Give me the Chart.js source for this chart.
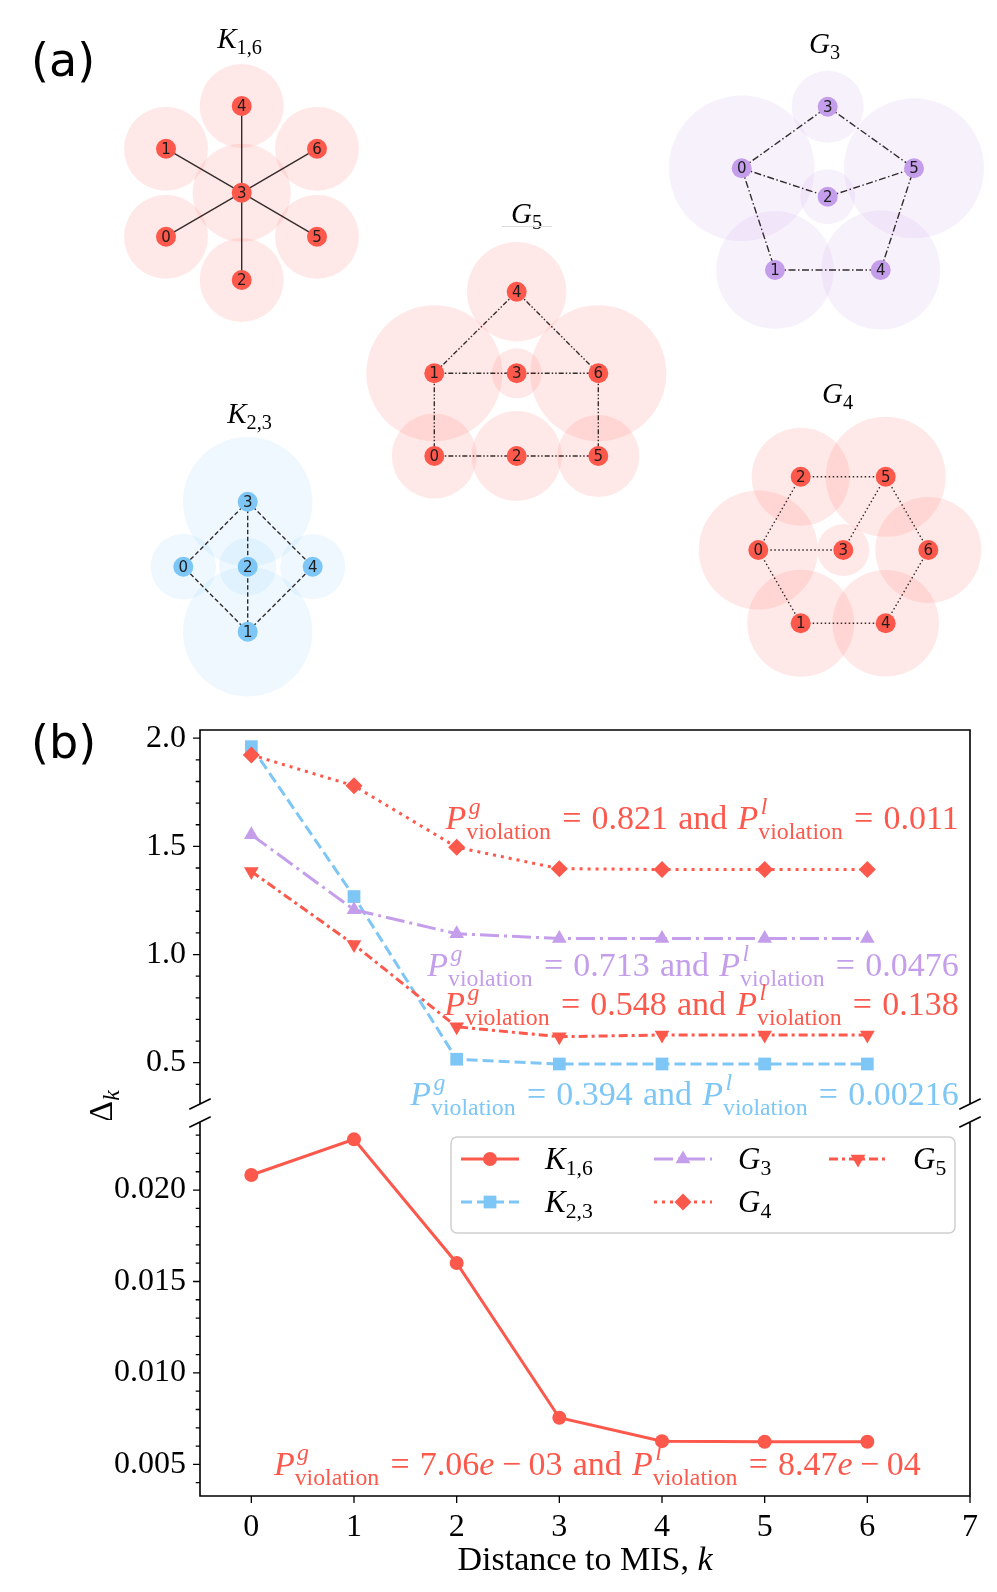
<!DOCTYPE html>
<html>
<head>
<meta charset="utf-8">
<script src="https://cdn.jsdelivr.net/npm/chart.js@4.4.1/dist/chart.umd.min.js"></script>
<style>
  html, body { margin: 0; padding: 0; background: #fff; }
  #page { position: relative; width: 997px; height: 1592px; overflow: hidden; }
  canvas { position: absolute; left: 0; }
</style>
</head>
<body>
<div id="page">
  <canvas id="graphs" width="997" height="700" style="top:0px"></canvas>
  <canvas id="upper" width="997" height="420" style="top:700px"></canvas>
  <canvas id="lower" width="997" height="482" style="top:1110px"></canvas>
</div>
<script>
// ---------- (b) data: Delta_k against distance to MIS ----------
const distK = [0, 1, 2, 3, 4, 5, 6];
const deltaK16 = [0.02082, 0.02277, 0.01601, 0.00755, 0.00627, 0.00624, 0.00624];
const deltaK23 = [1.961, 1.268, 0.516, 0.494, 0.494, 0.494, 0.494];
const deltaG3  = [1.554, 1.207, 1.096, 1.074, 1.074, 1.074, 1.074];
const deltaG4  = [1.923, 1.780, 1.496, 1.397, 1.393, 1.393, 1.393];
const deltaG5  = [1.384, 1.046, 0.666, 0.620, 0.628, 0.628, 0.628];
const seriesValues = [deltaK16, deltaK23, deltaG3, deltaG4, deltaG5];
const seriesLetters = ['K', 'K', 'G', 'G', 'G'];
const seriesSubs = ['1,6', '2,3', '3', '4', '5'];
const pGlobal = ['7.06e-03', '0.394', '0.713', '0.821', '0.548'];
const pLocal  = ['8.47e-04', '0.00216', '0.0476', '0.011', '0.138'];
const xTickValues = [0, 1, 2, 3, 4, 5, 6, 7];
const upperTickValues = [0.5, 1.0, 1.5, 2.0];
const lowerTickValues = [0.005, 0.010, 0.015, 0.020];

// ---------- (a) data: graph layouts (units of the drawing, y up) ----------
const k16Nodes = [[-0.757, -0.44], [-0.757, 0.44], [0, -0.873], [0, 0], [0, 0.867], [0.753, -0.44], [0.753, 0.44]];
const k16Edges = [[3, 0], [3, 1], [3, 2], [3, 4], [3, 5], [3, 6]];
const k16Halo  = [0.42, 0.42, 0.42, 0.49, 0.42, 0.42, 0.42];

const g3Nodes = [[-0.86, 0.284], [-0.527, -0.733], [0, 0], [0, 0.90], [0.53, -0.733], [0.863, 0.284]];
const g3Edges = [[0, 3], [3, 5], [0, 2], [2, 5], [0, 1], [1, 4], [4, 5]];
const g3Halo  = [0.728, 0.587, 0.275, 0.36, 0.595, 0.70];

const g5Nodes = [[-0.824, -0.827], [-0.824, 0], [0, -0.827], [0, 0], [0, 0.816], [0.816, -0.827], [0.816, 0]];
const g5Edges = [[4, 1], [4, 6], [1, 3], [3, 6], [1, 0], [6, 5], [0, 2], [2, 5]];
const g5Halo  = [0.425, 0.68, 0.45, 0.25, 0.497, 0.41, 0.68];

const k23Nodes = [[-0.644, 0], [0, -0.65], [0, 0], [0, 0.65], [0.65, 0]];
const k23Edges = [[3, 0], [3, 2], [3, 4], [1, 0], [1, 2], [1, 4]];
const k23Halo  = [0.327, 0.647, 0.287, 0.647, 0.325];

const g4Nodes = [[-0.85, 0], [-0.426, -0.733], [-0.426, 0.733], [0, 0], [0.424, -0.733], [0.424, 0.733], [0.85, 0]];
const g4Edges = [[2, 5], [2, 0], [5, 3], [5, 6], [0, 3], [0, 1], [1, 4], [4, 6]];
const g4Halo  = [0.595, 0.535, 0.49, 0.26, 0.533, 0.60, 0.53];

// ---------- styles and placement ----------
const RED = 'rgb(252,88,76)', BLUE = 'rgb(125,198,245)', PURPLE = 'rgb(196,158,234)';
const RED_H = 'rgba(252,88,76,0.13)', BLUE_H = 'rgba(125,198,245,0.13)', PURPLE_H = 'rgba(196,158,234,0.14)';
const SERIF = '"Liberation Serif", "DejaVu Serif", serif';
const EDGE = 'rgba(30,22,22,0.9)';
const GRAPH_SPAN = [9.97, 7.0];

const seriesStyle = [
  { color: RED,    dash: [],            pointStyle: 'circle',   r: 7,   rot: 0 },
  { color: BLUE,   dash: [11, 5],       pointStyle: 'rect',     r: 9,   rot: 0 },
  { color: PURPLE, dash: [19, 5, 3, 5], pointStyle: 'triangle', r: 8.5, rot: 0 },
  { color: RED,    dash: [3, 5],        pointStyle: 'rectRot',  r: 8.5, rot: 0 },
  { color: RED,    dash: [9, 4, 3, 4],  pointStyle: 'triangle', r: 8.5, rot: 180 }
];

const graphs = [
  { nodes: k16Nodes, edges: k16Edges, halo: k16Halo, color: RED,    halo_c: RED_H,    dash: [],                      at: [2.417, 5.073], title: [2.40, 6.52], s: 0 },
  { nodes: k23Nodes, edges: k23Edges, halo: k23Halo, color: BLUE,   halo_c: BLUE_H,   dash: [4.5, 2.5],              at: [2.477, 1.333], title: [2.50, 2.77], s: 1 },
  { nodes: g3Nodes,  edges: g3Edges,  halo: g3Halo,  color: PURPLE, halo_c: PURPLE_H, dash: [7, 2.5, 1.5, 2.5],      at: [8.277, 5.033], title: [8.25, 6.47], s: 2 },
  { nodes: g4Nodes,  edges: g4Edges,  halo: g4Halo,  color: RED,    halo_c: RED_H,    dash: [1.5, 2.5],              at: [8.433, 1.50],  title: [8.38, 2.97], s: 3 },
  { nodes: g5Nodes,  edges: g5Edges,  halo: g5Halo,  color: RED,    halo_c: RED_H,    dash: [5, 2, 1.5, 2, 1.5, 2],  at: [5.167, 3.267], title: [5.27, 4.77], s: 4, underline: true }
];

// ---------- little math-text helper ----------
function fontOf(size, it) { return (it ? 'italic ' : '') + size + 'px ' + SERIF; }
function layoutRuns(ctx, runs, F) {
  const S = 0.7 * F, items = [];
  let w = 0;
  runs.forEach(r => {
    if (r.sp !== undefined) { w += r.sp * F; return; }
    if (r.t !== undefined) {
      const f = fontOf(F, r.it); ctx.font = f;
      items.push({ x: w, t: r.t, font: f, dy: 0 });
      w += ctx.measureText(r.t).width;
      return;
    }
    const both = r.sup !== undefined && r.sub !== undefined;
    let ww = 0;
    if (r.sup !== undefined) {
      const f = fontOf(S, true); ctx.font = f;
      items.push({ x: w + 0.07 * F, t: r.sup, font: f, dy: -0.45 * F });
      ww = Math.max(ww, ctx.measureText(r.sup).width + 0.07 * F);
    }
    if (r.sub !== undefined) {
      const f = fontOf(S, !!r.subIt); ctx.font = f;
      items.push({ x: w, t: r.sub, font: f, dy: (both ? 0.3 : 0.2) * F });
      ww = Math.max(ww, ctx.measureText(r.sub).width);
    }
    w += ww + 0.03 * F;
  });
  return { items, w };
}
function drawRuns(ctx, runs, x, y, F, align, color) {
  const L = layoutRuns(ctx, runs, F);
  const x0 = align === 'right' ? x - L.w : align === 'center' ? x - L.w / 2 : x;
  ctx.fillStyle = color; ctx.textAlign = 'left'; ctx.textBaseline = 'alphabetic';
  L.items.forEach(it => { ctx.font = it.font; ctx.fillText(it.t, x0 + it.x, y + it.dy); });
}
function valueRuns(v) {
  const m = v.split('e');
  if (m.length < 2) return [{ t: v }];
  return [{ t: m[0] }, { t: 'e', it: true }, { sp: 0.22 }, { t: '\u2212' }, { sp: 0.22 }, { t: m[1].replace('-', '') }];
}
function violationRuns(s) {
  return [{ t: 'P', it: true }, { sup: 'g', sub: 'violation' }, { sp: 0.3 }, { t: '=' }, { sp: 0.3 },
    ...valueRuns(pGlobal[s]), { sp: 0.3 }, { t: 'and' }, { sp: 0.3 },
    { t: 'P', it: true }, { sup: 'l', sub: 'violation' }, { sp: 0.3 }, { t: '=' }, { sp: 0.3 }, ...valueRuns(pLocal[s])];
}
function nameRuns(s) { return [{ t: seriesLetters[s], it: true }, { sub: seriesSubs[s] }]; }

// ---------- (a) graph drawings ----------
function pxu(chart) { return chart.width / GRAPH_SPAN[0]; }
const graphDatasets = [];
graphs.forEach(g => {
  const pts = g.nodes.map(p => ({ x: g.at[0] + p[0], y: g.at[1] + p[1] }));
  graphDatasets.push({ type: 'scatter', data: pts, order: 3, clip: false,
    pointRadius: c => g.halo[c.dataIndex] * pxu(c.chart), pointBackgroundColor: g.halo_c, pointBorderWidth: 0 });
  g.edges.forEach(e => graphDatasets.push({ type: 'scatter', showLine: true, data: [pts[e[0]], pts[e[1]]], order: 2, clip: false,
    borderColor: EDGE, borderWidth: 1.4, borderDash: g.dash, pointRadius: 0 }));
  graphDatasets.push({ type: 'scatter', data: pts, order: 1, clip: false,
    pointRadius: 10, pointBackgroundColor: g.color, pointBorderWidth: 0 });
});

const graphText = {
  id: 'graphText',
  afterDatasetsDraw(chart) {
    const ctx = chart.ctx, xs = chart.scales.x, ys = chart.scales.y;
    ctx.save();
    ctx.font = '15px "DejaVu Sans"'; ctx.fillStyle = '#1c1c1c';
    ctx.textAlign = 'center'; ctx.textBaseline = 'middle';
    graphs.forEach(g => g.nodes.forEach((p, i) =>
      ctx.fillText(String(i), xs.getPixelForValue(g.at[0] + p[0]), ys.getPixelForValue(g.at[1] + p[1]) + 1)));
    graphs.forEach(g => {
      const tx = xs.getPixelForValue(g.title[0]), ty = ys.getPixelForValue(g.title[1]);
      drawRuns(ctx, nameRuns(g.s), tx, ty, 29, 'center', '#000');
      if (g.underline) {
        ctx.strokeStyle = '#dcdcdc'; ctx.lineWidth = 1;
        ctx.beginPath(); ctx.moveTo(tx - 25, ty + 3.5); ctx.lineTo(tx + 25, ty + 3.5); ctx.stroke();
      }
    });
    ctx.fillStyle = '#000'; ctx.font = '46px "DejaVu Sans"'; ctx.textAlign = 'left'; ctx.textBaseline = 'alphabetic';
    ctx.fillText('(a)', 31, 76);
    ctx.restore();
  }
};

new Chart(document.getElementById('graphs'), {
  type: 'scatter',
  data: { datasets: graphDatasets },
  options: {
    responsive: false, animation: false, events: [],
    layout: { padding: 0, autoPadding: false },
    plugins: { legend: { display: false }, tooltip: { enabled: false } },
    scales: { x: { type: 'linear', min: 0, max: GRAPH_SPAN[0], display: false }, y: { type: 'linear', min: 0, max: GRAPH_SPAN[1], display: false } }
  },
  plugins: [graphText]
});

// ---------- (b) broken-axis line chart ----------
function lineDatasets() {
  return seriesValues.map((vals, s) => {
    const st = seriesStyle[s];
    return {
      data: distK.map((k, i) => ({ x: k, y: vals[i] })),
      borderColor: st.color, borderWidth: 3, borderDash: st.dash, fill: false, tension: 0,
      pointStyle: st.pointStyle, pointRadius: st.r, pointRotation: st.rot,
      pointBackgroundColor: st.color, pointBorderColor: st.color, pointBorderWidth: 0,
      order: -s
    };
  });
}
function minorTicks(min, max, step, majors) {
  const out = [];
  for (let i = Math.ceil(min / step - 1e-9); i * step <= max + 1e-12; i++) {
    const v = +(i * step).toFixed(6);
    if (!majors.some(m => Math.abs(m - v) < step / 10)) out.push(v);
  }
  return out;
}
function drawFrame(chart, part) {
  const ctx = chart.ctx, a = chart.chartArea, ys = chart.scales.y, xs = chart.scales.x;
  ctx.save();
  ctx.strokeStyle = '#000'; ctx.lineWidth = 1.6; ctx.lineCap = 'butt';
  ctx.beginPath();
  ctx.moveTo(a.left, a.top); ctx.lineTo(a.left, a.bottom);
  ctx.moveTo(a.right, a.top); ctx.lineTo(a.right, a.bottom);
  const edgeY = part === 'upper' ? a.top : a.bottom;
  ctx.moveTo(a.left - 0.8, edgeY); ctx.lineTo(a.right + 0.8, edgeY);
  const breakY = part === 'upper' ? a.bottom : a.top;
  [a.left, a.right].forEach(x => { ctx.moveTo(x - 10.7, breakY + 5.3); ctx.lineTo(x + 10.7, breakY - 5.3); });
  ctx.stroke();
  const majors = part === 'upper' ? upperTickValues : lowerTickValues;
  const minors = part === 'upper' ? minorTicks(ys.min, ys.max, 0.1, majors) : minorTicks(ys.min, ys.max, 0.001, majors);
  ctx.lineWidth = 1.3; ctx.beginPath();
  majors.forEach(v => { const y = ys.getPixelForValue(v); ctx.moveTo(a.left - 7, y); ctx.lineTo(a.left, y); });
  minors.forEach(v => { const y = ys.getPixelForValue(v); ctx.moveTo(a.left - 4.3, y); ctx.lineTo(a.left, y); });
  if (part === 'lower') xTickValues.forEach(v => { const x = xs.getPixelForValue(v); ctx.moveTo(x, a.bottom); ctx.lineTo(x, a.bottom + 7); });
  ctx.stroke();
  ctx.restore();
}

const upperNotes = [{ s: 3, x: 6.89, y: 1.581 }, { s: 2, x: 6.89, y: 0.900 }, { s: 4, x: 6.89, y: 0.720 }, { s: 1, x: 6.89, y: 0.305 }];
const lowerNotes = [{ s: 0, x: 3.37, y: 0.00441 }];

const upperDeco = {
  id: 'upperDeco',
  afterDraw(chart) {
    drawFrame(chart, 'upper');
    const ctx = chart.ctx, xs = chart.scales.x, ys = chart.scales.y;
    ctx.save();
    upperNotes.forEach(n => drawRuns(ctx, violationRuns(n.s), xs.getPixelForValue(n.x), ys.getPixelForValue(n.y), 34, 'right', seriesStyle[n.s].color));
    // y-axis title, rotated
    ctx.translate(112, 406); ctx.rotate(-Math.PI / 2);
    drawRuns(ctx, [{ t: '\u0394' }, { sub: 'k', subIt: true }], 0, 0, 34, 'center', '#000');
    ctx.restore();
    ctx.save();
    ctx.fillStyle = '#000'; ctx.font = '46px "DejaVu Sans"'; ctx.textAlign = 'left'; ctx.textBaseline = 'alphabetic';
    ctx.fillText('(b)', 31, 58);
    ctx.restore();
  }
};

const lowerDeco = {
  id: 'lowerDeco',
  afterDraw(chart) {
    drawFrame(chart, 'lower');
    const ctx = chart.ctx, xs = chart.scales.x, ys = chart.scales.y, a = chart.chartArea;
    ctx.save();
    lowerNotes.forEach(n => drawRuns(ctx, violationRuns(n.s), xs.getPixelForValue(n.x), ys.getPixelForValue(n.y), 34, 'center', seriesStyle[n.s].color));
    // legend, three columns filled column by column
    const bx = a.right - 519, by = a.top + 15, bw = 504, bh = 96;
    ctx.beginPath(); ctx.roundRect(bx, by, bw, bh, 6);
    ctx.fillStyle = 'rgba(255,255,255,0.85)'; ctx.fill();
    ctx.strokeStyle = '#cfcfcf'; ctx.lineWidth = 1.5; ctx.stroke();
    const colX = [bx + 10, bx + 203, bx + 378], rowY = [by + 22, by + 65];
    seriesStyle.forEach((st, s) => {
      const cx = colX[Math.floor(s / 2)], cy = rowY[s % 2];
      ctx.save();
      ctx.strokeStyle = st.color; ctx.lineWidth = 3; ctx.setLineDash(st.dash);
      ctx.beginPath(); ctx.moveTo(cx, cy); ctx.lineTo(cx + 58, cy); ctx.stroke();
      ctx.setLineDash([]); ctx.fillStyle = st.color;
      Chart.helpers.drawPoint(ctx, { pointStyle: st.pointStyle, radius: st.r, rotation: st.rot, borderWidth: 0 }, cx + 29, cy);
      ctx.restore();
      drawRuns(ctx, nameRuns(s), cx + 84, cy + 10, 31, 'left', '#000');
    });
    // x-axis title
    drawRuns(ctx, [{ t: 'Distance to MIS, ' }, { t: 'k', it: true }], (a.left + a.right) / 2, 460, 34, 'center', '#000');
    ctx.restore();
  }
};

// keep the axes from padding the plot area for their end labels
function noEdgePad(s) { s.paddingTop = 0; s.paddingBottom = 0; s.paddingLeft = 0; s.paddingRight = 0; }
const tickFont = { family: SERIF, size: 32 };
new Chart(document.getElementById('upper'), {
  type: 'line',
  data: { datasets: lineDatasets() },
  options: {
    responsive: false, animation: false, events: [],
    layout: { padding: { top: 30, right: 27, bottom: 16, left: 0 }, autoPadding: false },
    plugins: { legend: { display: false }, tooltip: { enabled: false } },
    scales: {
      x: { type: 'linear', min: -0.5, max: 7, display: false },
      y: { type: 'linear', min: 0.309, max: 2.038,
        afterFit: s => { s.width = 200; noEdgePad(s); },
        afterBuildTicks: s => { s.ticks = upperTickValues.map(v => ({ value: v })); },
        grid: { display: false, drawTicks: false }, border: { display: false },
        ticks: { padding: 14, font: tickFont, color: '#000', callback: v => Number(v).toFixed(1) } }
    }
  },
  plugins: [upperDeco]
});

new Chart(document.getElementById('lower'), {
  type: 'line',
  data: { datasets: lineDatasets() },
  options: {
    responsive: false, animation: false, events: [],
    layout: { padding: { top: 12, right: 27, bottom: 0, left: 0 }, autoPadding: false },
    plugins: { legend: { display: false }, tooltip: { enabled: false } },
    scales: {
      x: { type: 'linear', min: -0.5, max: 7,
        afterFit: s => { s.height = 96; noEdgePad(s); },
        afterBuildTicks: s => { s.ticks = xTickValues.map(v => ({ value: v })); },
        grid: { display: false, drawTicks: false }, border: { display: false },
        ticks: { padding: 12, font: tickFont, color: '#000', maxRotation: 0, autoSkip: false, callback: v => String(v) } },
      y: { type: 'linear', min: 0.00327, max: 0.02372,
        afterFit: s => { s.width = 200; noEdgePad(s); },
        afterBuildTicks: s => { s.ticks = lowerTickValues.map(v => ({ value: v })); },
        grid: { display: false, drawTicks: false }, border: { display: false },
        ticks: { padding: 14, font: tickFont, color: '#000', callback: v => Number(v).toFixed(3) } }
    }
  },
  plugins: [lowerDeco]
});
</script>
</body>
</html>
